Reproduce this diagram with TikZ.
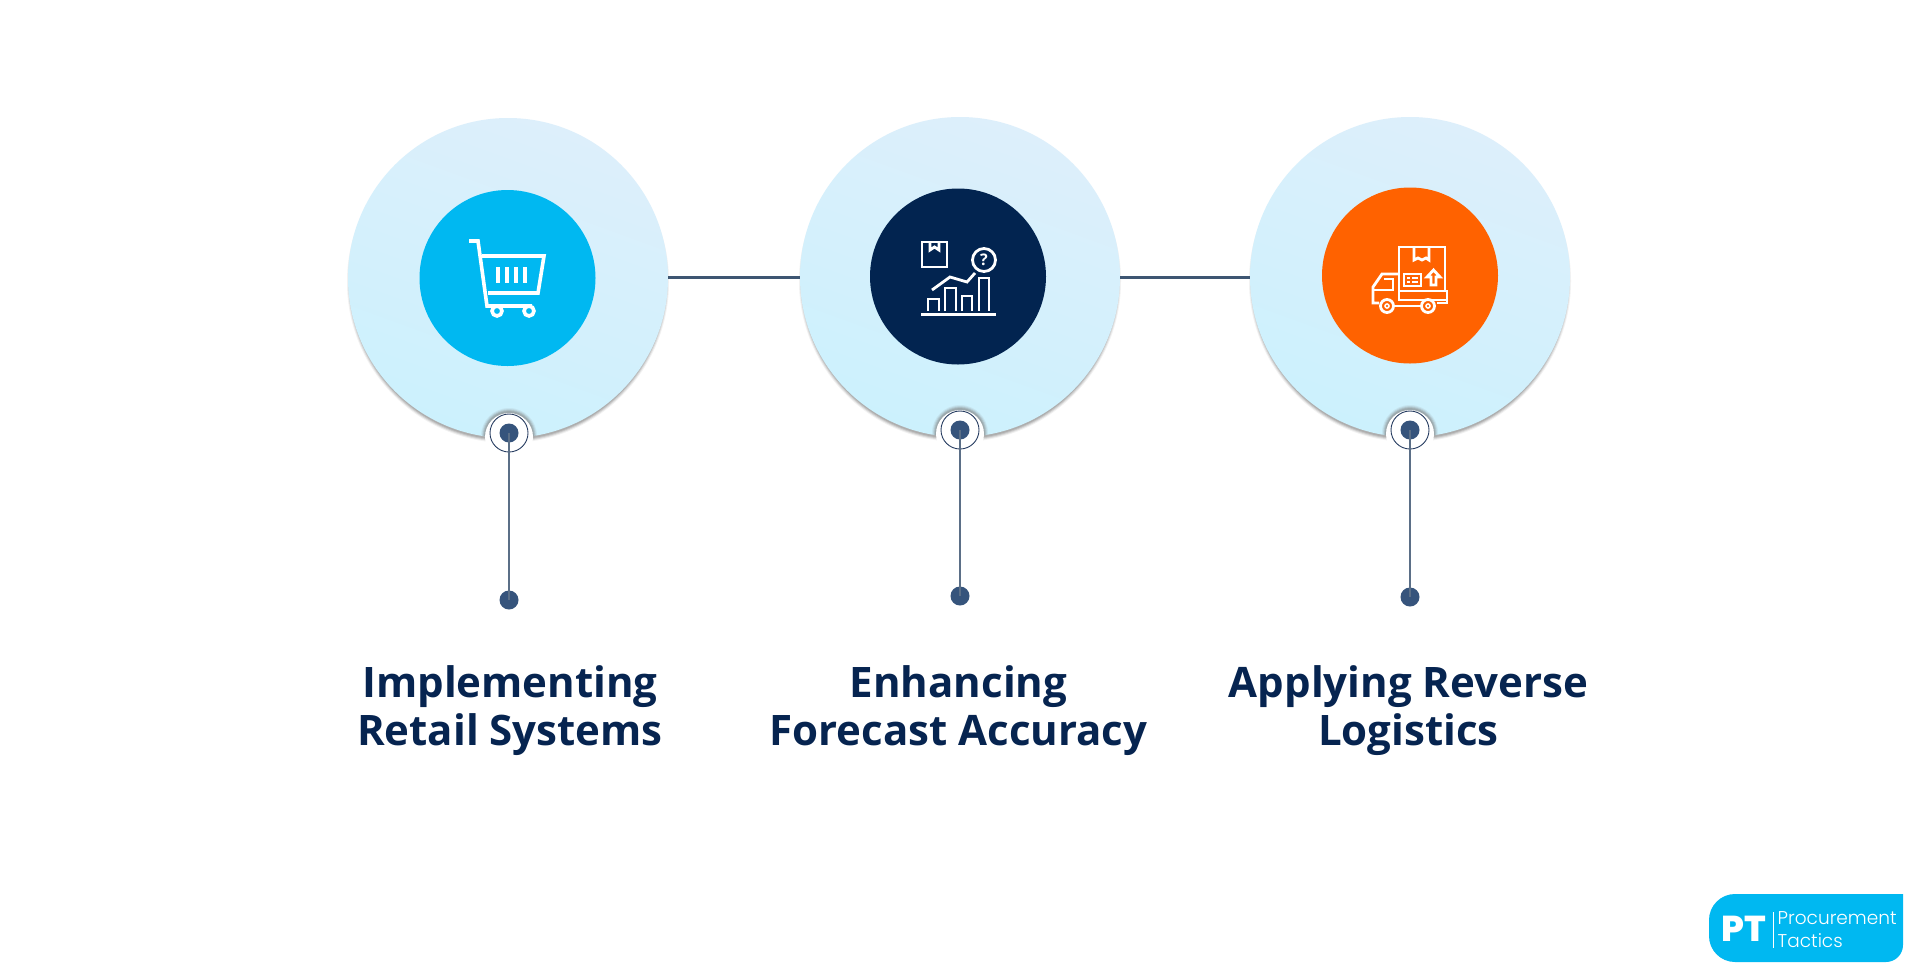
\documentclass[tikz,border=0pt]{standalone}
\usepackage{fontspec}
\setmainfont{Open Sans}
\newfontfamily\logofont{Poppins ExtraBold}
\newfontfamily\logolight{Poppins Light}
\definecolor{paleBlue}{RGB}{221, 239, 251}
\definecolor{paleCyan}{RGB}{204, 241, 253}
\definecolor{cartBlue}{RGB}{0, 184, 241}
\definecolor{chartNavy}{RGB}{2, 36, 80}
\definecolor{truckOrange}{RGB}{255, 98, 0}
\definecolor{pinBlue}{RGB}{54, 84, 124}
\definecolor{ringNavy}{RGB}{40, 62, 98}
\definecolor{linkSlate}{RGB}{62, 86, 114}
\definecolor{titleNavy}{RGB}{6, 36, 80}
\definecolor{shadowGray}{RGB}{130, 130, 130}
\usetikzlibrary{positioning,calc}
\tikzset{
    bigdisc/.style={circle,minimum size=320pt,inner sep=0pt,top color=paleBlue,bottom color=paleCyan,shading angle=-20},
    icondisc/.style={circle,minimum size=176pt,inner sep=0pt},
    notch/.style={circle,fill=white,minimum size=48pt,inner sep=0pt},
    ringmark/.style={circle,draw=ringNavy,line width=0.9pt,minimum size=38pt,inner sep=0pt},
    pindot/.style={circle,fill=pinBlue,minimum size=19pt,inner sep=0pt},
    linkline/.style={draw=linkSlate,line width=3pt},
    pinline/.style={draw=linkSlate!85,line width=1.4pt},
    titletext/.style={font=\fontsize{42}{48.5}\selectfont\bfseries,text=titleNavy,align=center},
    iconline/.style={draw=white,line width=2.8pt,line join=miter},
    cartline/.style={draw=white,line width=3.6pt,line join=miter}
}
\begin{document}
\begin{tikzpicture}[x=1pt,y=-1pt]
    \useasboundingbox[fill=white] (0,0) rectangle (1920,975);
    % soft shadows under the discs
    \foreach \cx/\cy in {508/278,960/277,1410/277} {
        \foreach \r/\o in {3/0.1,2/0.18,1/0.26,0/0.34} {
            \fill[shadowGray,opacity=\o] (\cx,\cy+4) circle[radius=158+\r];
        }
    }
    % discs
    \node[bigdisc] (bigA) at (508,278) {};
    \node[bigdisc] (bigB) at (960,277) {};
    \node[bigdisc] (bigC) at (1410,277) {};
    \node[icondisc,fill=cartBlue] (iconA) at (507.5,278) {};
    \node[icondisc,fill=chartNavy] (iconB) at (958,276.5) {};
    \node[icondisc,fill=truckOrange] (iconC) at (1410,275.5) {};
    % links
    \draw[linkline] (bigA.east |- bigB.west) -- (bigB.west);
    \draw[linkline] (bigB.east) -- (bigC.west);
    % pins
    \foreach \n/\x/\y/\yy/\cy in {A/509/433/600/278,B/960/430/596/277,C/1410/430/597/277} {
        \begin{scope}
            \clip (\x,\cy) circle[radius=160];
            \foreach \r/\o in {4/0.1,3/0.18,2/0.26,1/0.34} {
                \fill[shadowGray,opacity=\o] (\x,\y+3) circle[radius=24+\r];
            }
        \end{scope}
        \node[notch] (notch\n) at (\x,\y+4) {};
        \node[ringmark] (ring\n) at (\x,\y) {};
        \node[pindot] (top\n) at (\x,\y) {};
        \node[pindot] (end\n) at (\x,\yy) {};
        \draw[pinline] (top\n.center) -- (end\n.center);
    }
    % cart icon
    \draw[cartline] (469,241) -- (478,241) -- (487,306) -- (532,306);
    \draw[cartline] (482,256) -- (544,256) -- (538,293) -- (488,293);
    \foreach \x in {498,507,516,525} {
        \draw[white,line width=3.8pt] (\x,267) -- (\x,283);
    }
    \draw[cartline,fill=cartBlue] (497,311) circle[radius=5];
    \draw[cartline,fill=cartBlue] (529,311) circle[radius=5];
    % chart icon
    \draw[iconline] (922,242) rectangle (947,267);
    \draw[iconline] (930,242) -- (930,250) -- (934.5,247) -- (939,250) -- (939,242);
    \draw[iconline] (984,260) circle[radius=11.5];
    \node[text=white,font=\fontsize{16}{16}\selectfont\bfseries] (quest) at (984,260) {?};
    \draw[iconline] (932,290) -- (950,277) -- (967,282) -- (975,273);
    \draw[iconline] (928,311) |- (939,299) -- (939,311);
    \draw[iconline] (945,311) |- (956,288) -- (956,311);
    \draw[iconline] (962,311) |- (972,296) -- (972,311);
    \draw[iconline] (979,311) |- (989,278) -- (989,311);
    \draw[iconline] (921,314.5) -- (996,314.5);
    % truck icon
    \draw[iconline] (1399,291) -- (1399,247) -- (1445,247) -- (1445,291);
    \draw[iconline] (1414,247) -- (1414,260) -- (1418,258) -- (1422,260) -- (1426,258) -- (1429,260) -- (1429,247);
    \draw[iconline] (1404,274) rectangle (1421,286);
    \draw[iconline,line width=1.8pt] (1407,278) -- (1410,278) (1412,278) -- (1418,278) (1407,282) -- (1410,282) (1412,282) -- (1418,282);
    \draw[iconline] (1431,285) -- (1431,277) -- (1427,277) -- (1433.5,270) -- (1440,277) -- (1436,277) -- (1436,285) -- cycle;
    \draw[iconline] (1399,274) -- (1382,274) -- (1373,287) -- (1373,303) -- (1379,303);
    \draw[iconline] (1399,291) -- (1447,291) -- (1447,303) -- (1437,303);
    \draw[iconline] (1399,274) -- (1399,300) -- (1447,300);
    \draw[iconline] (1394,306) -- (1421,306);
    \draw[iconline] (1384,279) -- (1393,279) -- (1393,290) -- (1374,290);
    \draw[iconline,fill=truckOrange] (1387,306) circle[radius=6.5];
    \draw[white,line width=1.6pt] (1387,306) circle[radius=2];
    \draw[iconline,fill=truckOrange] (1428,306) circle[radius=6.5];
    \draw[white,line width=1.6pt] (1428,306) circle[radius=2];
    % titles
    \node[titletext] (titleA) at (510,710.5) {Implementing\\Retail Systems};
    \node[titletext] (titleB) at (958.5,710.5) {Enhancing\\Forecast Accuracy};
    \node[titletext] (titleC) at (1408.5,710.5) {Applying Reverse\\Logistics};
    % logo
    \fill[cartBlue] (1903,894) [rounded corners=26pt] -- (1709,894) -- (1709,962) [rounded corners=17pt] -- (1903,962) [sharp corners] -- cycle;
    \node[text=white,font=\fontsize{36}{36}\logofont] (logoPT) at (1744,929) {PT};
    \draw[white,line width=0.6pt] (1773,912) -- (1773,948);
    \node[anchor=west,text=white,font=\fontsize{18.5}{23}\logolight,align=left,inner sep=0pt] (logoName) at (1777.5,930) {Procurement\\Tactics};
\end{tikzpicture}
\end{document}
